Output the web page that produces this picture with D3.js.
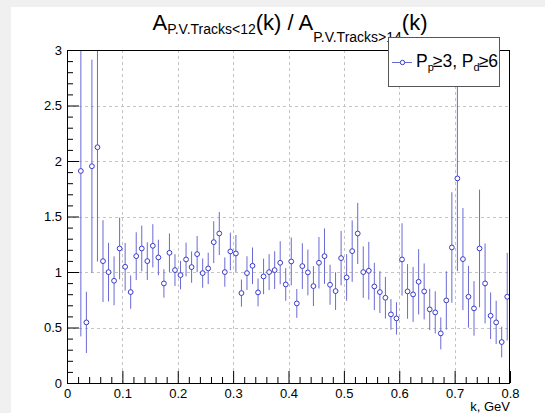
<!DOCTYPE html>
<html>
<head>
<meta charset="utf-8">
<script src="https://cdn.jsdelivr.net/npm/d3@7"></script>
<style>
  html, body { margin: 0; padding: 0; background: #ffffff; }
  svg { display: block; }
  text { font-family: "Liberation Sans", Arial, Helvetica, sans-serif; fill: #000; }
</style>
</head>
<body>
<svg id="chart" width="545" height="413"></svg>
<script>
// Bin centres of k (GeV)
const kCenters = [
  0.025, 0.035, 0.045, 0.055, 0.065, 0.075, 0.085, 0.095, 0.105, 0.115,
  0.125, 0.135, 0.145, 0.155, 0.165, 0.175, 0.185, 0.195, 0.205, 0.215,
  0.225, 0.235, 0.245, 0.255, 0.265, 0.275, 0.285, 0.295, 0.305, 0.315,
  0.325, 0.335, 0.345, 0.355, 0.365, 0.375, 0.385, 0.395, 0.405, 0.415,
  0.425, 0.435, 0.445, 0.455, 0.465, 0.475, 0.485, 0.495, 0.505, 0.515,
  0.525, 0.535, 0.545, 0.555, 0.565, 0.575, 0.585, 0.595, 0.605, 0.615,
  0.625, 0.635, 0.645, 0.655, 0.665, 0.675, 0.685, 0.695, 0.705, 0.715,
  0.725, 0.735, 0.745, 0.755, 0.765, 0.775, 0.785, 0.795
];

// Ratio A(<12) / A(>14) per bin
const ratioValues = [
  1.91, 0.546, 1.953, 2.124, 1.098, 0.999, 0.921, 1.212, 1.047, 0.819,
  1.143, 1.212, 1.098, 1.236, 1.131, 0.897, 1.173, 1.017, 0.972, 1.113,
  1.044, 1.161, 0.990, 1.032, 1.269, 1.347, 0.999, 1.185, 1.167, 0.810,
  0.990, 1.056, 0.816, 0.960, 0.999, 1.017, 1.083, 0.888, 1.095, 0.717,
  1.053, 0.996, 0.873, 1.083, 1.143, 0.885, 0.828, 1.125, 0.951, 1.188,
  1.347, 0.999, 1.011, 0.870, 0.819, 0.768, 0.618, 0.582, 1.113, 0.825,
  0.798, 0.912, 0.825, 0.663, 0.636, 0.447, 0.744, 1.221, 1.843, 1.116,
  0.777, 0.672, 1.212, 0.897, 0.606, 0.546, 0.369, 0.777
];

// Statistical uncertainty per bin
const ratioErrors = [
  1.49, 0.276, 0.960, 1.030, 0.369, 0.264, 0.220, 0.278, 0.215, 0.150,
  0.215, 0.206, 0.170, 0.195, 0.160, 0.128, 0.174, 0.143, 0.128, 0.152,
  0.141, 0.163, 0.132, 0.142, 0.189, 0.194, 0.132, 0.170, 0.166, 0.122,
  0.152, 0.165, 0.125, 0.160, 0.162, 0.170, 0.194, 0.147, 0.215, 0.130,
  0.206, 0.206, 0.180, 0.232, 0.250, 0.180, 0.170, 0.245, 0.210, 0.277,
  0.275, 0.232, 0.260, 0.213, 0.188, 0.188, 0.138, 0.146, 0.326, 0.246,
  0.248, 0.294, 0.252, 0.186, 0.190, 0.144, 0.263, 0.498, 0.835, 0.460,
  0.278, 0.246, 0.530, 0.360, 0.210, 0.195, 0.138, 0.395
];

const xTickValues = [0, 0.1, 0.2, 0.3, 0.4, 0.5, 0.6, 0.7, 0.8];
const xTickLabels = ["0", "0.1", "0.2", "0.3", "0.4", "0.5", "0.6", "0.7", "0.8"];
const yTickValues = [0, 0.5, 1, 1.5, 2, 2.5, 3];
const yTickLabels = ["0", "0.5", "1", "1.5", "2", "2.5", "3"];

const xAxisTitle = "k, GeV";
const legendLabel = { main: "P", sub1: "p", mid: "\u22653, P", sub2: "d", tail: "\u22656" };

const data = kCenters.map((k, i) => ({ k, v: ratioValues[i], e: ratioErrors[i] }));

const W = 545, H = 413;
const frame = { left: 67, right: 510, top: 50, bottom: 383 };
const lineColor = "#6a6ad4";
const markerColor = "#3a3acc";

const svg = d3.select("#chart");

// Canvas background with a light border strip on top/left
svg.append("rect").attr("width", W).attr("height", H).attr("fill", "#f0f0f0");
svg.append("rect").attr("x", 11).attr("y", 7).attr("width", W - 11).attr("height", H - 7).attr("fill", "#ffffff");

const x = d3.scaleLinear().domain([0, 0.8]).range([frame.left, frame.right]);
const y = d3.scaleLinear().domain([0, 3]).range([frame.bottom, frame.top]);

// Dashed grid
const grid = svg.append("g").attr("stroke", "#c4c4c4").attr("stroke-width", 1).attr("stroke-dasharray", "3,3");
grid.selectAll("line.gx").data(xTickValues.slice(1, -1)).join("line")
  .attr("x1", d => Math.round(x(d)) + 0.5).attr("x2", d => Math.round(x(d)) + 0.5)
  .attr("y1", frame.top).attr("y2", frame.bottom);
grid.selectAll("line.gy").data(yTickValues.slice(1, -1)).join("line")
  .attr("y1", d => Math.round(y(d)) + 0.5).attr("y2", d => Math.round(y(d)) + 0.5)
  .attr("x1", frame.left).attr("x2", frame.right);

// Error bars and markers, clipped to the frame
svg.append("clipPath").attr("id", "frameClip").append("rect")
  .attr("x", frame.left).attr("y", frame.top)
  .attr("width", frame.right - frame.left).attr("height", frame.bottom - frame.top);

const plot = svg.append("g").attr("clip-path", "url(#frameClip)");
plot.selectAll("line.err").data(data).join("line")
  .attr("class", "err")
  .attr("x1", d => x(d.k)).attr("x2", d => x(d.k))
  .attr("y1", d => y(d.v + d.e)).attr("y2", d => y(d.v - d.e))
  .attr("stroke", lineColor).attr("stroke-width", 1);
plot.selectAll("circle.pt").data(data).join("circle")
  .attr("class", "pt")
  .attr("cx", d => x(d.k)).attr("cy", d => y(d.v)).attr("r", 2.4)
  .attr("fill", "#ffffff").attr("stroke", markerColor).attr("stroke-width", 1);

// Axes with ticks pointing into the frame
const xAxis = d3.axisBottom(x).tickValues(xTickValues)
  .tickFormat((d, i) => xTickLabels[i]).tickSizeInner(-12).tickSizeOuter(0).tickPadding(6);
const xMinor = d3.axisBottom(x).tickValues(d3.range(0, 41).map(i => i * 0.02).filter(v => Math.round(v * 50) % 5 !== 0))
  .tickFormat("").tickSizeInner(-6).tickSizeOuter(0);
const yAxis = d3.axisLeft(y).tickValues(yTickValues)
  .tickFormat((d, i) => yTickLabels[i]).tickSizeInner(-12).tickSizeOuter(0).tickPadding(5);
const yMinor = d3.axisLeft(y).tickValues(d3.range(0, 31).map(i => i * 0.1).filter(v => Math.round(v * 10) % 5 !== 0))
  .tickFormat("").tickSizeInner(-6).tickSizeOuter(0);

function styleAxis(g) {
  g.select(".domain").remove();
  g.selectAll("line").attr("stroke", "#000");
  g.selectAll("text").attr("font-size", 13).attr("font-family", "Liberation Sans, Arial, sans-serif").attr("fill", "#000");
}
svg.append("g").attr("transform", `translate(0,${frame.bottom})`).call(xAxis).call(styleAxis);
svg.append("g").attr("transform", `translate(0,${frame.bottom})`).call(xMinor).call(styleAxis);
svg.append("g").attr("transform", `translate(${frame.left},0)`).call(yAxis).call(styleAxis);
svg.append("g").attr("transform", `translate(${frame.left},0)`).call(yMinor).call(styleAxis);

// Frame
svg.append("rect")
  .attr("x", frame.left + 0.5).attr("y", frame.top + 0.5)
  .attr("width", frame.right - frame.left - 1).attr("height", frame.bottom - frame.top)
  .attr("fill", "none").attr("stroke", "#000").attr("stroke-width", 1);

// Axis title
svg.append("text").attr("x", frame.right).attr("y", 411)
  .attr("text-anchor", "end").attr("font-size", 13).text(xAxisTitle);

// Plot title with subscripts
const title = svg.append("text").attr("x", 290).attr("y", 29.5).attr("text-anchor", "middle").attr("font-size", 22);
title.append("tspan").text("A");
title.append("tspan").attr("font-size", 14).attr("dy", 4).text("P.V.Tracks<12");
title.append("tspan").attr("dy", -4).text("(k) / A");
title.append("tspan").attr("font-size", 14).attr("dy", 12.5).text("P.V.Tracks>14");
title.append("tspan").attr("dy", -12.5).text("(k)");

// Legend
const lg = svg.append("g");
lg.append("rect").attr("x", 388.5).attr("y", 37.5).attr("width", 111).attr("height", 49)
  .attr("fill", "#ffffff").attr("stroke", "#555").attr("stroke-width", 1);
lg.append("line").attr("x1", 392).attr("x2", 412).attr("y1", 62.5).attr("y2", 62.5)
  .attr("stroke", lineColor).attr("stroke-width", 1);
lg.append("circle").attr("cx", 402.5).attr("cy", 62.5).attr("r", 2.2)
  .attr("fill", "#ffffff").attr("stroke", markerColor).attr("stroke-width", 1);
const lt = lg.append("text").attr("x", 416).attr("y", 66.5).attr("font-size", 17.5);
lt.append("tspan").text(legendLabel.main);
lt.append("tspan").attr("font-size", 11).attr("dy", 4).text(legendLabel.sub1);
lt.append("tspan").attr("dy", -4).attr("dx", -1).text(legendLabel.mid);
lt.append("tspan").attr("font-size", 11).attr("dy", 4).text(legendLabel.sub2);
lt.append("tspan").attr("dy", -4).attr("dx", -1).text(legendLabel.tail);
</script>
</body>
</html>
